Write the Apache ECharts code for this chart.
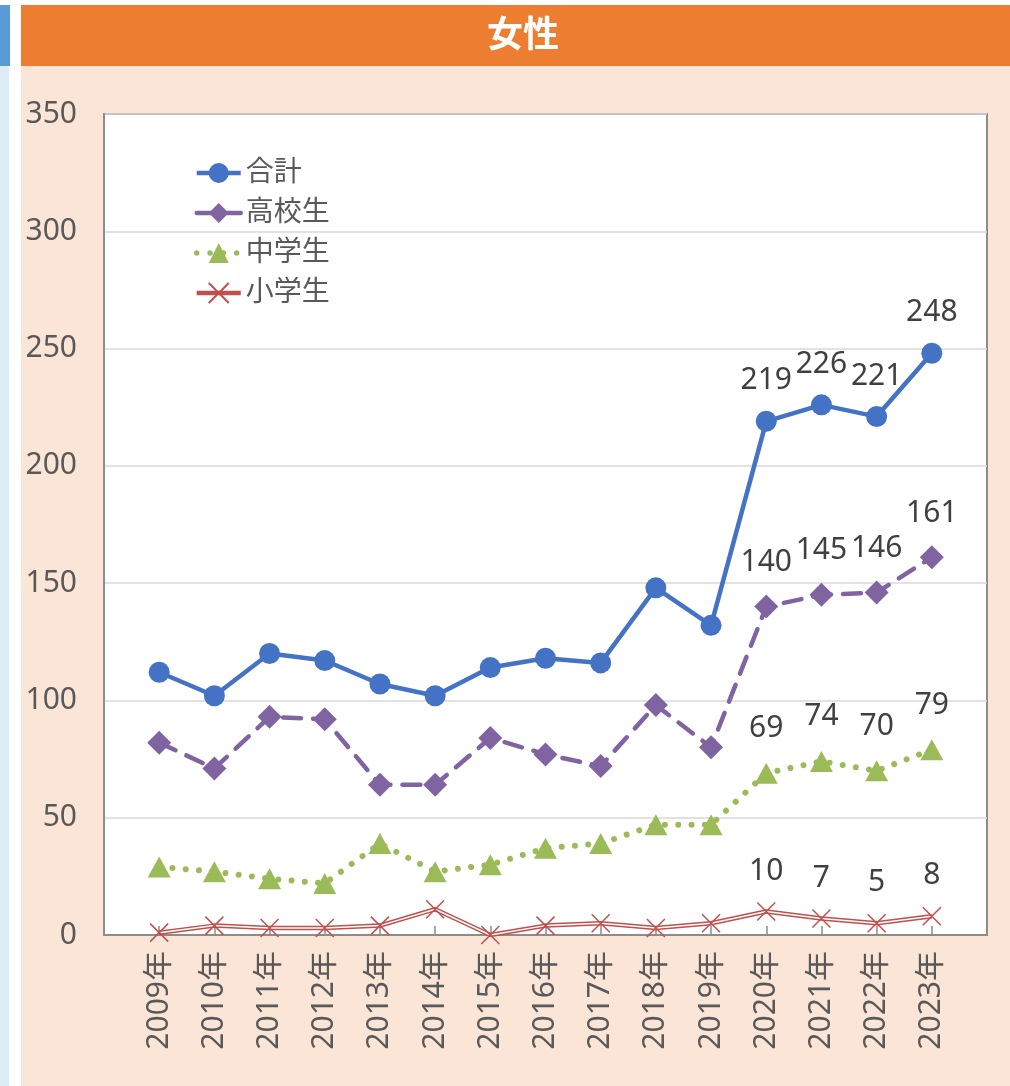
<!DOCTYPE html>
<html>
<head>
<meta charset="utf-8">
<script src="https://cdn.jsdelivr.net/npm/echarts@6/dist/echarts.min.js"></script>
<style>
  html, body { margin: 0; padding: 0; background: #ffffff; }
  #wrap { position: relative; width: 1010px; height: 1086px; overflow: hidden; }
  .bg { position: absolute; }
  #chart { position: absolute; left: 0; top: 0; width: 1010px; height: 1086px; }
</style>
</head>
<body>
<div id="wrap">
  <div class="bg" style="left:0;top:5px;width:10px;height:61px;background:#5B9BD5"></div>
  <div class="bg" style="left:0;top:66px;width:9px;height:1020px;background:#DDEBF7"></div>
  <div class="bg" style="left:21px;top:5px;width:989px;height:61px;background:#ED7D31"></div>
  <div class="bg" style="left:21px;top:66px;width:989px;height:1020px;background:#FBE5D6"></div>
  <div id="chart"></div>
</div>
<script>
// ---- data ----
const title = '女性';
const years = [2009, 2010, 2011, 2012, 2013, 2014, 2015, 2016, 2017, 2018, 2019, 2020, 2021, 2022, 2023];
const xLabels = ['2009年', '2010年', '2011年', '2012年', '2013年', '2014年', '2015年', '2016年', '2017年', '2018年', '2019年', '2020年', '2021年', '2022年', '2023年'];
const yTicks = [0, 50, 100, 150, 200, 250, 300, 350];
const labeledYears = [2020, 2021, 2022, 2023];
const seriesNames = ['合計', '高校生', '中学生', '小学生'];
const total = [112, 102, 120, 117, 107, 102, 114, 118, 116, 148, 132, 219, 226, 221, 248];
const highSchool = [82, 71, 93, 92, 64, 64, 84, 77, 72, 98, 80, 140, 145, 146, 161];
const juniorHigh = [29, 27, 24, 22, 39, 27, 30, 37, 39, 47, 47, 69, 74, 70, 79];
const elementary = [1, 4, 3, 3, 4, 11, 0, 4, 5, 3, 5, 10, 7, 5, 8];

const FONT = '"Noto Sans", "Noto Sans CJK JP", sans-serif';
const C_TOTAL = '#4472C4', C_HIGH = '#8064A2', C_JUNIOR = '#9BBB59', C_ELEM = '#C0504D';

function build(vals) {
  return vals.map((v, i) => ({
    value: [years[i], v],
    label: { show: labeledYears.indexOf(years[i]) >= 0 }
  }));
}
function lbl(dist) {
  return {
    show: false, position: 'top', distance: dist,
    fontFamily: FONT, fontSize: 30, lineHeight: 30, color: '#404040'
  };
}

const chart = echarts.init(document.getElementById('chart'), null, { renderer: 'canvas' });
const xPath = 'path://M0,0L10,10M10,0L0,10';

chart.setOption({
  animation: false,
  backgroundColor: 'transparent',
  textStyle: { fontFamily: FONT },
  graphic: [{
    type: 'text', left: 487, top: 15, z: 100,
    style: { text: title, fill: '#ffffff', font: 'bold 36px "Noto Sans CJK JP", sans-serif' }
  }],
  grid: {
    left: 104, top: 114, right: 23, bottom: 151,
    show: true, backgroundColor: '#ffffff', borderColor: '#8C8C8C', borderWidth: 2
  },
  legend: {
    orient: 'vertical', left: 189, top: 153,
    data: [
      { name: seriesNames[0], lineStyle: { width: 4.5 } },
      { name: seriesNames[1], lineStyle: { width: 4.5 } },
      { name: seriesNames[2], lineStyle: { width: 5.5 } },
      { name: seriesNames[3], lineStyle: { width: 4.5 } }
    ],
    itemWidth: 44, itemHeight: 25, itemGap: 10,
    textStyle: { fontFamily: FONT, fontSize: 28, lineHeight: 30, color: '#595959' }
  },
  xAxis: {
    type: 'value', min: 2008, max: 2024, interval: 1,
    axisLine: { show: true, lineStyle: { color: '#8C8C8C', width: 2 } },
    axisTick: { show: true, inside: true, length: 9, lineStyle: { color: '#8C8C8C', width: 1.5 } },
    splitLine: { show: false },
    axisLabel: {
      rotate: 90, margin: 16, fontFamily: FONT, fontSize: 30, color: '#595959',
      formatter: function (v) { const i = years.indexOf(v); return i >= 0 ? xLabels[i] : ''; }
    }
  },
  yAxis: {
    type: 'value', min: yTicks[0], max: yTicks[yTicks.length - 1], interval: 50,
    axisLine: { show: true, lineStyle: { color: '#8C8C8C', width: 2 } },
    axisTick: { show: false },
    splitLine: { show: true, lineStyle: { color: '#D9D9D9', width: 1.5 } },
    axisLabel: { margin: 27, fontFamily: FONT, fontSize: 30, color: '#595959' }
  },
  series: [
    {
      name: seriesNames[0], type: 'line', data: build(total),
      symbol: 'circle', symbolSize: 21,
      lineStyle: { color: C_TOTAL, width: 4.5 },
      itemStyle: { color: C_TOTAL },
      label: lbl(15), z: 5
    },
    {
      name: seriesNames[1], type: 'line', data: build(highSchool),
      symbol: 'diamond', symbolSize: 24,
      lineStyle: { color: C_HIGH, width: 4.5, type: [18, 12], cap: 'round' },
      itemStyle: { color: C_HIGH },
      label: lbl(17), z: 4
    },
    {
      name: seriesNames[2], type: 'line', data: build(juniorHigh),
      symbol: 'triangle', symbolSize: [23, 21],
      lineStyle: { color: C_JUNIOR, width: 6, type: [0.01, 13.3], cap: 'round' },
      itemStyle: { color: C_JUNIOR },
      label: lbl(19), z: 3
    },
    {
      name: seriesNames[3], type: 'line', data: build(elementary),
      symbol: xPath, symbolSize: 18,
      lineStyle: { color: C_ELEM, width: 4.5 },
      itemStyle: { color: 'none', borderColor: C_ELEM, borderWidth: 1.5 },
      label: lbl(14), z: 2
    },
    {
      name: 'elementary-inner', type: 'line', data: elementary.map((v, i) => [years[i], v]),
      symbol: 'none', silent: true,
      lineStyle: { color: '#ffffff', width: 1.5 }, z: 2
    }
  ]
});
</script>
</body>
</html>
